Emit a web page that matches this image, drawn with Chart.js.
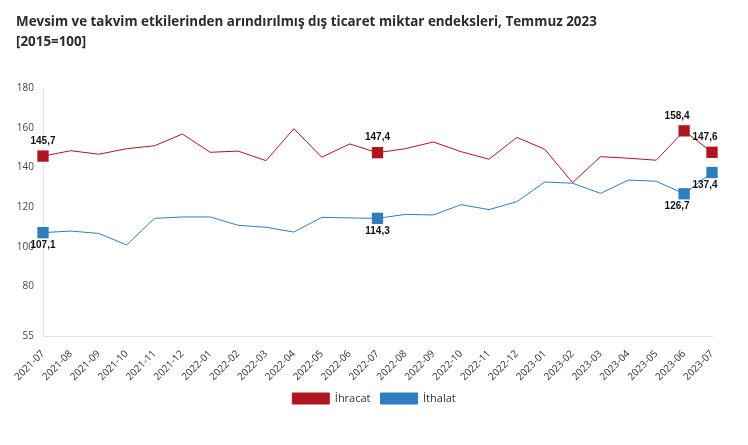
<!DOCTYPE html>
<html>
<head>
<meta charset="utf-8">
<script src="https://cdn.jsdelivr.net/npm/chart.js@4.4.0/dist/chart.umd.min.js"></script>
<style>
  html, body { margin: 0; padding: 0; background: #fff; }
  #wrap { position: relative; width: 748px; height: 445px; overflow: hidden; }
  #title { position: absolute; left: 16px; top: 11px; font-family: "Open Sans", sans-serif; font-weight: 700; font-size: 13.4px; line-height: 20px; color: #2b2b2b; white-space: nowrap; }
  canvas { position: absolute; left: 0; top: 0; }
</style>
</head>
<body>
<div id="wrap">
  <canvas id="c" width="748" height="445"></canvas>
  <div id="title">Mevsim ve takvim etkilerinden arındırılmış dış ticaret miktar endeksleri, Temmuz 2023<br>[2015=100]</div>
</div>
<script>
const categories = ["2021-07","2021-08","2021-09","2021-10","2021-11","2021-12","2022-01","2022-02","2022-03","2022-04","2022-05","2022-06","2022-07","2022-08","2022-09","2022-10","2022-11","2022-12","2023-01","2023-02","2023-03","2023-04","2023-05","2023-06","2023-07"];
const ihracat = [145.7,148.4,146.6,149.4,150.9,156.8,147.6,148.2,143.4,159.5,145.1,151.8,147.4,149.4,152.8,147.9,144.1,155.1,149.1,132.3,145.4,144.6,143.6,158.4,147.6];
const ithalat = [107.1,107.9,106.7,100.9,114.3,115.0,115.0,110.8,109.8,107.4,114.8,114.5,114.3,116.3,116.0,121.2,118.7,122.7,132.6,132.0,126.9,133.6,133.0,126.7,137.4];
const yTicks = [55,80,100,120,140,160,180];
const labelledIdx = [0,12,23,24];

const RED = '#b0161f', BLUE = '#2f7dbf';

const radii = () => categories.map((_, i) => labelledIdx.includes(i) ? 8 : 0);

const labelPlugin = {
  id: 'valueLabels',
  afterDatasetsDraw(chart) {
    const ctx = chart.ctx;
    ctx.save();
    ctx.font = 'bold 10px "Liberation Sans", Arial, sans-serif';
    ctx.fillStyle = '#111';
    ctx.textAlign = 'center';
    ctx.textBaseline = 'middle';
    chart.data.datasets.forEach((ds, di) => {
      const meta = chart.getDatasetMeta(di);
      labelledIdx.forEach(i => {
        const el = meta.data[i];
        const dy = di === 0 ? -15 : 13;
        const dx = (i >= categories.length - 2) ? -7 : 0;
        ctx.fillText(ds.data[i].toFixed(1).replace('.', ','), el.x + dx, el.y + dy);
      });
    });
    ctx.restore();
  }
};

new Chart(document.getElementById('c'), {
  type: 'line',
  data: {
    labels: categories,
    datasets: [
      { label: 'İhracat', data: ihracat, borderColor: RED, backgroundColor: RED, borderWidth: 1, tension: 0,
        pointStyle: 'rect', pointRadius: radii(), pointBackgroundColor: RED, pointBorderWidth: 0, pointHoverRadius: 8 },
      { label: 'İthalat', data: ithalat, borderColor: BLUE, backgroundColor: BLUE, borderWidth: 1, tension: 0,
        pointStyle: 'rect', pointRadius: radii(), pointBackgroundColor: BLUE, pointBorderWidth: 0, pointHoverRadius: 8 }
    ]
  },
  options: {
    responsive: false,
    animation: false,
    layout: { padding: { top: 88, left: 0, right: 0, bottom: 31 } },
    plugins: {
      legend: {
        position: 'bottom',
        labels: { boxWidth: 37, boxHeight: 11, padding: 10, color: '#333', font: { family: '"Open Sans", sans-serif', size: 11 } }
      },
      tooltip: { enabled: false }
    },
    scales: {
      x: {
        grid: { display: false },
        border: { display: true, color: '#e4e4e4' },
        ticks: { autoSkip: false, minRotation: 45, maxRotation: 45, padding: 4, color: '#333', font: { family: '"Open Sans", sans-serif', size: 10 } },
        afterFit: s => { s.height = 47; }
      },
      y: {
        min: 55, max: 180,
        grid: { display: false, drawTicks: false },
        border: { display: true, color: '#e4e4e4' },
        ticks: { padding: 9, color: '#444', font: { family: '"Open Sans", sans-serif', size: 10 } },
        afterBuildTicks: s => { s.ticks = yTicks.map(v => ({ value: v })); },
        afterFit: s => { s.width = 43; }
      },
      y2: {
        position: 'right',
        grid: { display: false, drawTicks: false },
        border: { display: false },
        ticks: { display: false },
        afterFit: s => { s.width = 36; }
      }
    }
  },
  plugins: [labelPlugin]
});
</script>
</body>
</html>
